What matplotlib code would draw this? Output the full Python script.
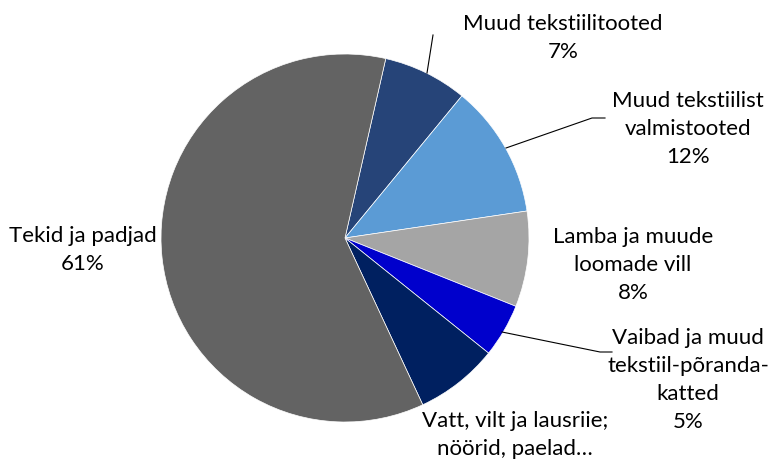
import matplotlib
matplotlib.use("Agg")
import matplotlib.pyplot as plt

categories = ["Muud tekstiilitooted", "Muud tekstiilist\nvalmistooted", "Lamba ja muude\nloomade vill",
              "Vaibad ja muud\ntekstiil-põranda-\nkatted", "Vatt, vilt ja lausriie;\nnöörid, paelad…", "Tekid ja padjad"]
values = [7.4, 11.7, 8.4, 4.7, 7.3, 60.5]
pct_labels = ["7%", "12%", "8%", "5%", "", "61%"]
colors = ["#264478", "#5B9BD5", "#A5A5A5", "#0000CC", "#002060", "#636363"]

W, H = 770, 459
fig = plt.figure(figsize=(W / 100, H / 100), dpi=100)
ax = fig.add_axes([0, 0, 1, 1])

cx, cy, r = 345, H - 238, 184
ax.pie(values, colors=colors, startangle=77.2, counterclock=False,
       center=(cx, cy), radius=r, frame=True,
       wedgeprops=dict(linewidth=0.5, edgecolor="white"))
ax.set_xlim(0, W)
ax.set_ylim(0, H)
ax.set_aspect("equal")
ax.axis("off")

font = dict(family=["Lato", "DejaVu Sans"], fontsize=16, color="black",
            ha="center", va="center", linespacing=1.5)
# label anchor positions (pixel coords from top)
label_pos = [(563, 37.5), (688, 129), (633, 265), (688, 379.5), (515, 435), (83, 250)]
for cat, pct, (x, y) in zip(categories, pct_labels, label_pos):
    txt = cat + ("\n" + pct if pct else "")
    ax.text(x, H - y, txt, **font)

# leader lines
leaders = [
    [(427, 73), (433, 35)],
    [(506, 148), (592, 118), (605, 118)],
    [(502, 332), (600, 352), (612, 352)],
]
for pts in leaders:
    xs = [p[0] for p in pts]
    ys = [H - p[1] for p in pts]
    ax.plot(xs, ys, color="black", linewidth=0.8)

fig.savefig("out.png", dpi=100)
